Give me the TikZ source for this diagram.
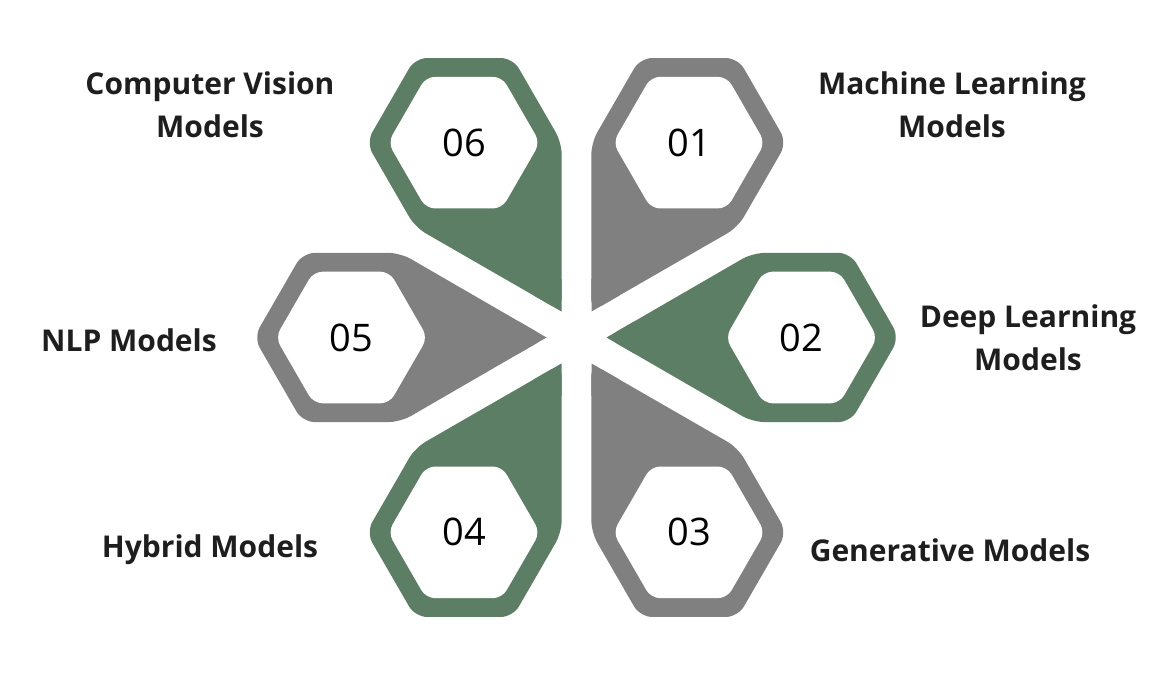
\documentclass[tikz,border=0pt]{standalone}
\usepackage{fontspec}
\setmainfont{Open Sans}
\usetikzlibrary{calc}
\definecolor{petalgreen}{RGB}{92,126,101}
\definecolor{petalgray}{RGB}{128,128,128}
\definecolor{labeltext}{RGB}{30,30,30}
\tikzset{
  lbl/.style={font=\fontsize{30}{43}\selectfont\bfseries, text=labeltext, align=center, inner sep=0pt},
  num/.style={font=\fontsize{38}{40}\selectfont, text=black, inner sep=0pt},
}
% petal: #1 angle, #2 colour
\newcommand{\mypetal}[2]{%
  \begin{scope}[shift={(576.5,334.5)}, rotate=#1]
    \fill[#2, rounded corners=12] (30,0) -- (176.15,-84.6) -- (273.85,-84.6) -- (322.7,0) -- (273.85,84.6) -- (176.15,84.6) -- cycle;
    \fill[#2] (30,0) -- (58,16.2) -- (58,-16.2) -- cycle;
    \fill[white, rounded corners=9] (149,0) -- (187,-65.8) -- (263,-65.8) -- (301,0) -- (263,65.8) -- (187,65.8) -- cycle;
  \end{scope}}
\begin{document}
\begin{tikzpicture}[x=1pt,y=1pt]
\useasboundingbox (0,0) rectangle (1164,672);
\fill[white] (0,0) rectangle (1164,672);
\coordinate (c) at (576.5,334.5);
\mypetal{60}{petalgray}
\mypetal{0}{petalgreen}
\mypetal{-60}{petalgray}
\mypetal{-120}{petalgreen}
\mypetal{180}{petalgray}
\mypetal{120}{petalgreen}
\node[num] (n01) at ([shift={(60:225)}]c) {01};
\node[num] (n02) at ([shift={(0:225)}]c) {02};
\node[num] (n03) at ([shift={(-60:225)}]c) {03};
\node[num] (n04) at ([shift={(-120:225)}]c) {04};
\node[num] (n05) at ([shift={(180:225)}]c) {05};
\node[num] (n06) at ([shift={(120:225)}]c) {06};
\node[lbl] (l06) at (210,567) {Computer Vision\\Models};
\node[lbl] (l01) at (952,567) {Machine Learning\\Models};
\node[lbl] (l02) at (1028,334) {Deep Learning\\Models};
\node[lbl] (l05) at (129,332) {NLP Models};
\node[lbl] (l04) at (210,122) {Hybrid Models};
\node[lbl] (l03) at (950,122) {Generative Models};
\end{tikzpicture}
\end{document}
